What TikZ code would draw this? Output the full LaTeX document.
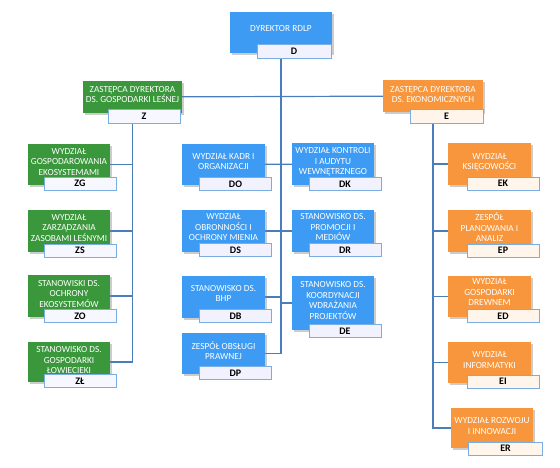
\documentclass[tikz,border=0pt]{standalone}
\usepackage{fontspec}
\setmainfont{Carlito}
\usetikzlibrary{backgrounds}
\usetikzlibrary{shadows}
\definecolor{rdlpblue}{HTML}{3D9BF4}
\definecolor{rdlpgreen}{HTML}{3A973B}
\definecolor{rdlporange}{HTML}{F7963C}
\definecolor{linkblue}{HTML}{4A7EBB}
\definecolor{codeedge}{HTML}{7AAEE3}
\tikzstyle{chart}=[x=1pt, y=-1pt, font=\fontsize{9.3}{10.5}\selectfont]
\tikzstyle{unit}=[rectangle, inner sep=0pt, minimum height=42pt, drop shadow={shadow xshift=2pt, shadow yshift=-2pt, opacity=.4}]
\tikzstyle{bluebox}=[unit, fill=rdlpblue]
\tikzstyle{greenbox}=[unit, fill=rdlpgreen]
\tikzstyle{orangebox}=[unit, fill=rdlporange]
\tikzstyle{txt}=[text=white, align=center, inner sep=0pt]
\tikzstyle{code}=[draw=codeedge, inner sep=0pt, minimum height=13pt, minimum width=72pt, font=\fontsize{10}{10}\selectfont\bfseries]
\tikzstyle{bcode}=[code, fill=blue!5]
\tikzstyle{gcode}=[code, fill=green!5!blue!3]
\tikzstyle{ocode}=[code, fill=orange!8]
\tikzstyle{link}=[draw=linkblue, line width=1.2pt]
\tikzstyle{zcol}=[greenbox, minimum width=82pt]
\tikzstyle{dlcol}=[bluebox, minimum width=83pt]
\tikzstyle{drcol}=[bluebox, minimum width=82pt]
\tikzstyle{ecol}=[orangebox, minimum width=83pt]

\begin{document}
\begin{tikzpicture}[chart]
	\useasboundingbox (0,0) rectangle (560,467);
	%% dyrektor
	\draw (281,32.5) node[bluebox, minimum width=102pt, minimum height=41pt] (d) {};
	\draw (281,29) node[txt] (dt) {DYREKTOR RDLP};
	\draw (294,51) node[bcode, minimum width=74pt, minimum height=14pt] (dc) {D};
	%%%%%%
	\draw (132.5,97) node[greenbox, minimum width=99pt, minimum height=32pt] (z) {};
	\draw (132.5,94.5) node[txt] (zt) {ZASTĘPCA DYREKTORA\\DS. GOSPODARKI LEŚNEJ};
	\draw (144,116) node[gcode, minimum height=14pt] (zc) {Z};
	%%
	\draw (433,96) node[orangebox, minimum width=100pt, minimum height=32pt] (e) {};
	\draw (433,94.5) node[txt] (et) {ZASTĘPCA DYREKTORA\\DS. EKONOMICZNYCH};
	\draw (446.5,116) node[ocode, minimum width=73pt, minimum height=14pt] (ec) {E};
	%%%%%% pion Z
	\draw (69,164.5) node[zcol, minimum height=41pt] (zg) {};
	\draw (69,162) node[txt] (zgt) {WYDZIAŁ\\GOSPODAROWANIA\\EKOSYSTEMAMI};
	\draw (80,183.5) node[gcode] (zgc) {ZG};
	%%
	\draw (69,231) node[zcol] (zs) {};
	\draw (69,228) node[txt] (zst) {WYDZIAŁ\\ZARZĄDZANIA\\ZASOBAMI LEŚNYMI};
	\draw (80,250.5) node[gcode] (zsc) {ZS};
	%%
	\draw (69,296) node[zcol] (zo) {};
	\draw (69,294) node[txt] (zot) {STANOWISKI DS.\\OCHRONY\\EKOSYSTEMÓW};
	\draw (80,316) node[gcode] (zoc) {ZO};
	%%
	\draw (69,362) node[zcol, minimum height=40pt] (zl) {};
	\draw (69,360.5) node[txt] (zlt) {STANOWISKO DS.\\GOSPODARKI\\ŁOWIECIEKI};
	\draw (80,381) node[gcode] (zlc) {ZŁ};
	%%%%%% pion D
	\draw (223.5,164.5) node[dlcol, minimum height=41pt] (do) {};
	\draw (223.5,161.5) node[txt] (dot) {WYDZIAŁ KADR I\\ORGANIZACJI};
	\draw (235.5,184) node[bcode] (doc) {DO};
	%%
	\draw (223.5,231) node[dlcol] (ds) {};
	\draw (223.5,227.5) node[txt] (dst) {WYDZIAŁ\\OBRONNOŚCI I\\OCHRONY MIENIA};
	\draw (235.5,250) node[bcode] (dsc) {DS};
	%%
	\draw (223.5,297) node[dlcol] (db) {};
	\draw (223.5,293.5) node[txt] (dbt) {STANOWISKO DS.\\BHP};
	\draw (235.5,316) node[bcode] (dbc) {DB};
	%%
	\draw (223.5,353.5) node[dlcol, minimum height=41pt] (dp) {};
	\draw (223.5,350.5) node[txt] (dpt) {ZESPÓŁ OBSŁUGI\\PRAWNEJ};
	\draw (235.5,373) node[bcode] (dpc) {DP};
	%%
	\draw (333,164) node[drcol] (dk) {};
	\draw (333,162) node[txt] (dkt) {WYDZIAŁ KONTROLI\\I AUDYTU\\WEWNĘTRZNEGO};
	\draw (345,184) node[bcode] (dkc) {DK};
	%%
	\draw (333,231) node[drcol] (dr) {};
	\draw (333,227.5) node[txt] (drt) {STANOWISKO DS.\\PROMOCJI I\\MEDIÓW};
	\draw (345,250) node[bcode] (drc) {DR};
	%%
	\draw (333,303) node[drcol, minimum height=54pt] (de) {};
	\draw (333,300.5) node[txt] (det) {STANOWISKO DS.\\KOORDYNACJI\\WDRAŻANIA\\PROJEKTÓW};
	\draw (345,331) node[bcode] (dec) {DE};
	%%%%%% pion E
	\draw (489.5,164) node[ecol] (ek) {};
	\draw (489.5,162.5) node[txt] (ekt) {WYDZIAŁ\\KSIĘGOWOŚCI};
	\draw (503,183.5) node[ocode] (ekc) {EK};
	%%
	\draw (489.5,231) node[ecol] (ep) {};
	\draw (489.5,227.5) node[txt] (ept) {ZESPÓŁ\\PLANOWANIA I\\ANALIZ};
	\draw (503,250.5) node[ocode] (epc) {EP};
	%%
	\draw (489.5,296.5) node[ecol, minimum height=41pt] (ed) {};
	\draw (489.5,292.5) node[txt] (edt) {WYDZIAŁ\\GOSPODARKI\\DREWNEM};
	\draw (503,316) node[ocode] (edc) {ED};
	%%
	\draw (489.5,362.5) node[ecol, minimum height=41pt] (ei) {};
	\draw (489.5,360) node[txt] (eit) {WYDZIAŁ\\INFORMATYKI};
	\draw (503,381.5) node[ocode] (eic) {EI};
	%%
	\draw (492,428) node[ecol, minimum width=82pt, minimum height=40pt] (er) {};
	\draw (492,426) node[txt] (ert) {WYDZIAŁ ROZWOJU\\I INNOWACJI};
	\draw (505.5,448.5) node[ocode, minimum width=74pt] (erc) {ER};
	%%%%%% linie
	\begin{scope}[on background layer]
	\draw[link] (z) -- (e);
	\draw[link] (d.south) |- (dp);
	\draw[link] (do) -- (dk);
	\draw[link] (ds) -- (dr);
	\draw[link] (db) -- (db -| d.south);
	\draw[link] (de) -- (de -| d.south);
	%%
	\draw[link] (z.south) |- (zl);
	\draw[link] (zg) -- (zg -| z.south);
	\draw[link] (zs) -- (zs -| z.south);
	\draw[link] (zo) -- (zo -| z.south);
	%%
	\draw[link] (e.south) |- (er);
	\draw[link] (ek) -- (ek -| e.south);
	\draw[link] (ep) -- (ep -| e.south);
	\draw[link] (ed) -- (ed -| e.south);
	\draw[link] (ei) -- (ei -| e.south);
	\end{scope}
\end{tikzpicture}
\end{document}
